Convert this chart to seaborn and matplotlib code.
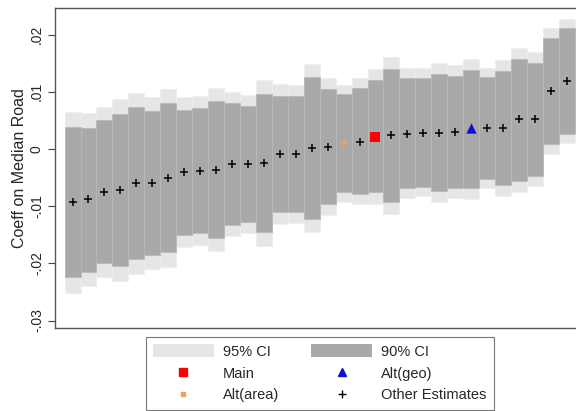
import numpy as np
import pandas as pd
import matplotlib
matplotlib.use("Agg")
import matplotlib.pyplot as plt
import seaborn as sns
from matplotlib.patches import Patch
from matplotlib.lines import Line2D

# point estimates, sorted
coef = [-0.0093, -0.0088, -0.0075, -0.0071, -0.0060, -0.0059, -0.0050, -0.0040,
        -0.0039, -0.0037, -0.0026, -0.0026, -0.0025, -0.0009, -0.0009, 0.0002,
        0.0004, 0.0010, 0.0013, 0.0021, 0.0024, 0.0027, 0.0028, 0.0028,
        0.0030, 0.0036, 0.0036, 0.0036, 0.0052, 0.0052, 0.0101, 0.0119]

# 90% CI
lo90 = [-0.0223, -0.0215, -0.0200, -0.0204, -0.0192, -0.0185, -0.0181, -0.0150,
        -0.0147, -0.0156, -0.0133, -0.0127, -0.0146, -0.0111, -0.0110, -0.0122,
        -0.0096, -0.0076, -0.0079, -0.0076, -0.0092, -0.0068, -0.0066, -0.0073,
        -0.0068, -0.0069, -0.0052, -0.0063, -0.0056, -0.0047, 0.0008, 0.0027]
hi90 = [0.0039, 0.0037, 0.0051, 0.0061, 0.0073, 0.0066, 0.0080, 0.0068,
        0.0071, 0.0084, 0.0080, 0.0075, 0.0096, 0.0093, 0.0092, 0.0125,
        0.0105, 0.0096, 0.0107, 0.0121, 0.0140, 0.0124, 0.0124, 0.0131,
        0.0128, 0.0138, 0.0125, 0.0136, 0.0157, 0.0151, 0.0194, 0.0212]

# 95% CI
lo95 = [-0.0251, -0.0240, -0.0223, -0.0230, -0.0219, -0.0210, -0.0206, -0.0172,
        -0.0168, -0.0178, -0.0152, -0.0147, -0.0169, -0.0131, -0.0129, -0.0146,
        -0.0115, -0.0092, -0.0096, -0.0096, -0.0114, -0.0086, -0.0083, -0.0092,
        -0.0086, -0.0087, -0.0069, -0.0082, -0.0075, -0.0065, -0.0009, 0.0010]
hi95 = [0.0064, 0.0062, 0.0074, 0.0087, 0.0097, 0.0090, 0.0105, 0.0090,
        0.0092, 0.0106, 0.0100, 0.0094, 0.0120, 0.0114, 0.0112, 0.0149,
        0.0124, 0.0112, 0.0124, 0.0139, 0.0161, 0.0141, 0.0141, 0.0151,
        0.0147, 0.0157, 0.0141, 0.0156, 0.0176, 0.0170, 0.0211, 0.0228]

# which spec each estimate is
spec = ['Other'] * 32
spec[17] = 'Alt(area)'
spec[19] = 'Main'
spec[25] = 'Alt(geo)'

df = pd.DataFrame({'rank': np.arange(1, 33), 'coef': coef, 'spec': spec,
                   'lo90': lo90, 'hi90': hi90, 'lo95': lo95, 'hi95': hi95})

sns.set_style('white')
plt.rcParams['font.family'] = ['Liberation Sans', 'DejaVu Sans']

fig = plt.figure(figsize=(5.76, 4.11), dpi=100)
ax = fig.add_axes([0.0955, 0.202, 0.919, 0.7786])

light = '#e6e6e6'
dark = '#a9a9a9'

ax.bar(df['rank'], df['hi95'] - df['lo95'], bottom=df['lo95'], width=1.0,
       color=light, edgecolor='#eeeeee', linewidth=0.4, zorder=1)
ax.bar(df['rank'], df['hi90'] - df['lo90'], bottom=df['lo90'], width=1.0,
       color=dark, edgecolor='#b9b9b9', linewidth=0.6, zorder=2)

styles = {
    'Other':     dict(marker='+', color='black', s=40, linewidth=1.1),
    'Main':      dict(marker='s', color='#ff0000', s=55, linewidth=0),
    'Alt(geo)':  dict(marker='^', color='#1010d0', s=55, linewidth=0),
    'Alt(area)': dict(marker='s', color='#eba45a', s=9, linewidth=0),
}
for name, st in styles.items():
    sub = df[df['spec'] == name]
    sns.scatterplot(data=sub, x='rank', y='coef', ax=ax, zorder=3,
                    legend=False, **st)

ax.set_xlim(-0.1, 33.1)
ax.set_ylim(-0.0313, 0.02465)
ax.set_xticks([])
ax.set_xlabel('')

yt = [-0.03, -0.02, -0.01, 0, 0.01, 0.02]
ax.set_yticks(yt)
ax.set_yticklabels(['-.03', '-.02', '-.01', '0', '.01', '.02'],
                   rotation=90, va='center', fontsize=10)
ax.tick_params(axis='y', direction='out', length=5, width=0.8,
               color='#444444', pad=3, left=True)
ax.set_ylabel('Coeff on Median Road', fontsize=11.5, labelpad=2)

for sp in ax.spines.values():
    sp.set_color('#555555')
    sp.set_linewidth(1.0)

handles = [
    Patch(facecolor=light, edgecolor='none', label='95% CI'),
    Line2D([], [], marker='s', color='#ff0000', linestyle='none',
           markersize=6, label='Main'),
    Line2D([], [], marker='s', color='#eba45a', linestyle='none',
           markersize=2.5, label='Alt(area)'),
    Patch(facecolor=dark, edgecolor='none', label='90% CI'),
    Line2D([], [], marker='^', color='#1010d0', linestyle='none',
           markersize=6, label='Alt(geo)'),
    Line2D([], [], marker='+', color='black', linestyle='none',
           markersize=6, markeredgewidth=1.0, label='Other Estimates'),
]
leg = fig.legend(handles=handles, ncol=2, loc='upper center',
                 bbox_to_anchor=(0.555, 0.18), fontsize=10.5, frameon=True,
                 fancybox=False, edgecolor='#555555', handlelength=4.2,
                 handleheight=1.0, handletextpad=0.6, columnspacing=2.2,
                 labelspacing=0.5, borderpad=0.5, borderaxespad=0)
leg.get_frame().set_linewidth(0.8)

fig.savefig('out.png', dpi=100)
